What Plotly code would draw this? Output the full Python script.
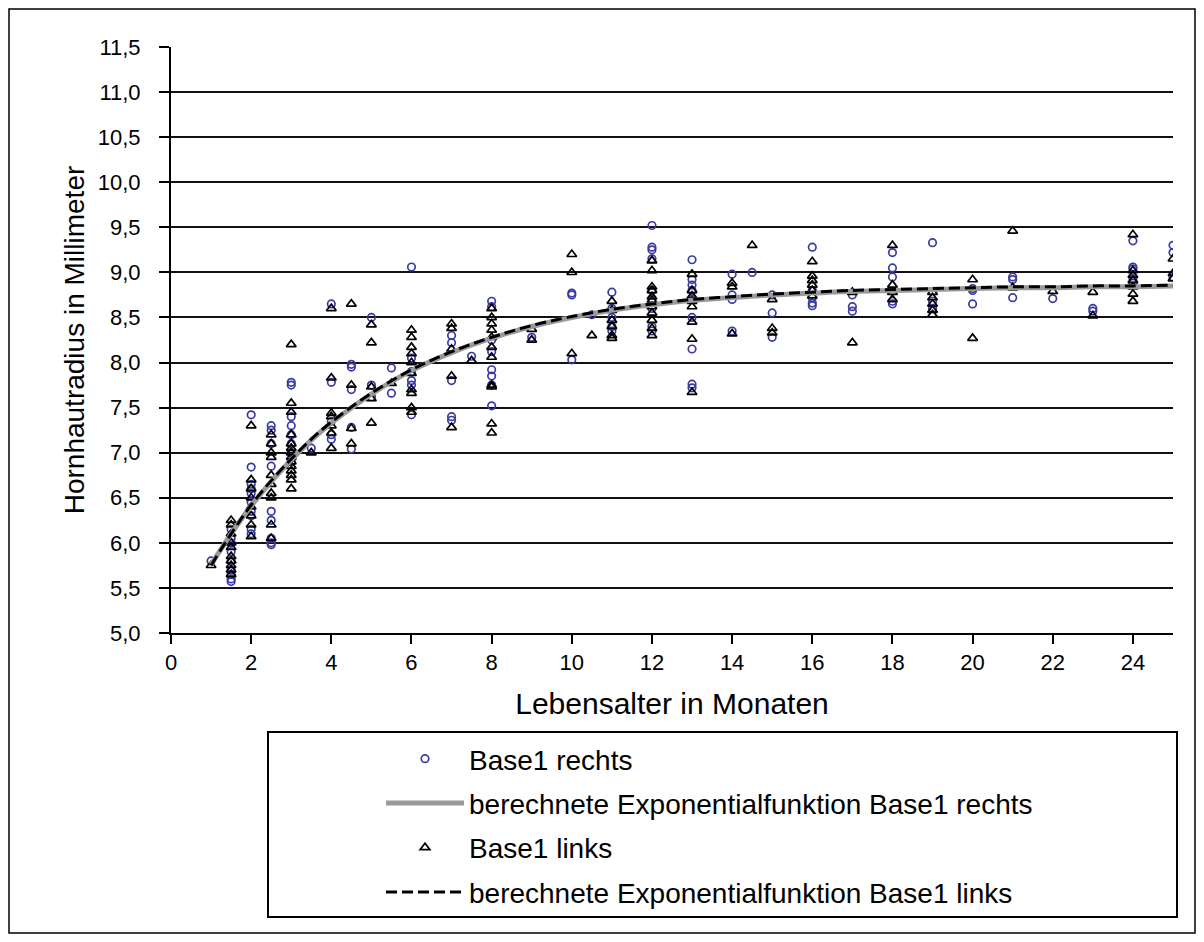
import plotly.graph_objects as go

# ---------------- data ----------------
ages = [1, 1.5, 2, 2.5, 3, 3.5, 4, 4.5, 5, 5.5, 6, 7, 7.5, 8, 9, 10, 10.5, 11,
        12, 13, 14, 14.5, 15, 16, 17, 18, 19, 20, 21, 22, 23, 24, 25]

rechts_mm = [
    [5.8],
    [6.15, 6.05, 6.0, 5.9, 5.8, 5.7, 5.65, 5.6, 5.57],
    [7.42, 6.84, 6.65, 6.6, 6.55, 6.45, 6.35, 6.3, 6.15, 6.1],
    [7.3, 7.25, 7.1, 6.85, 6.35, 6.25, 6.05, 6.0, 5.98],
    [7.78, 7.75, 7.4, 7.3, 7.2, 7.1, 7.0, 6.9],
    [7.05],
    [8.65, 7.78, 7.35, 7.2, 7.15],
    [7.98, 7.95, 7.7, 7.28, 7.04],
    [8.5, 7.75, 7.62],
    [7.94, 7.66],
    [9.06, 8.05, 7.9, 7.8, 7.75, 7.42],
    [8.3, 8.22, 7.8, 7.4, 7.36],
    [8.07],
    [8.68, 8.62, 8.25, 8.12, 7.92, 7.85, 7.75, 7.52],
    [8.28],
    [8.77, 8.75, 8.03],
    [8.53],
    [8.78, 8.6, 8.5, 8.4, 8.35],
    [9.52, 9.28, 9.25, 9.15, 8.8, 8.7, 8.6, 8.4, 8.35],
    [9.14, 8.92, 8.86, 8.8, 8.7, 8.5, 8.15, 7.76, 7.72],
    [8.98, 8.75, 8.7, 8.35],
    [9.0],
    [8.75, 8.55, 8.28],
    [9.28, 8.8, 8.72, 8.66, 8.63],
    [8.75, 8.62, 8.57],
    [9.22, 9.05, 8.95, 8.68, 8.65],
    [9.33, 8.68, 8.6],
    [8.82, 8.8, 8.65],
    [8.95, 8.92, 8.72],
    [8.71],
    [8.6, 8.57],
    [9.35, 9.06, 9.04, 8.93, 8.88],
    [9.3, 9.22, 8.95],
]

links_mm = [
    [5.75],
    [6.25, 6.2, 6.1, 6.0, 5.95, 5.85, 5.8, 5.75, 5.7, 5.65],
    [7.3, 6.7, 6.6, 6.5, 6.4, 6.3, 6.2, 6.07],
    [7.2, 7.1, 7.0, 6.95, 6.75, 6.65, 6.55, 6.5, 6.2, 6.05],
    [8.2, 7.55, 7.45, 7.2, 7.1, 7.05, 7.0, 6.95, 6.9, 6.85, 6.8, 6.75, 6.7, 6.6],
    [7.0],
    [8.6, 7.83, 7.44, 7.4, 7.3, 7.22, 7.05],
    [8.65, 7.75, 7.27, 7.1],
    [8.42, 8.22, 7.73, 7.6, 7.33],
    [7.77],
    [8.36, 8.28, 8.17, 8.1, 8.0, 7.88, 7.7, 7.66, 7.5, 7.45],
    [8.43, 8.38, 8.15, 7.85, 7.28],
    [8.02],
    [8.6, 8.5, 8.43, 8.36, 8.28, 8.17, 8.06, 7.75, 7.73, 7.32, 7.22],
    [8.37, 8.25],
    [9.2, 9.0, 8.1],
    [8.3],
    [8.68, 8.58, 8.47, 8.4, 8.3, 8.27],
    [9.13, 9.02, 8.84, 8.8, 8.73, 8.69, 8.62, 8.55, 8.47, 8.38, 8.3],
    [8.98, 8.8, 8.74, 8.68, 8.62, 8.45, 8.26, 7.67],
    [8.88, 8.84, 8.32],
    [9.3],
    [8.7, 8.38, 8.33],
    [9.12, 8.96, 8.91, 8.86, 8.8, 8.74],
    [8.78, 8.22],
    [9.3, 8.86, 8.78, 8.7],
    [8.78, 8.72, 8.65, 8.58, 8.53],
    [8.92, 8.27],
    [9.46, 8.83],
    [8.79],
    [8.78, 8.52],
    [9.42, 9.02, 8.97, 8.91, 8.84, 8.76, 8.68],
    [9.15, 8.99, 8.93],
]

fit_ages = [1, 1.5, 2, 2.5, 3, 3.5, 4, 5, 6, 7, 8, 9, 10, 11, 12, 13, 14, 15,
            16, 17, 18, 19, 20, 21, 22, 23, 24, 25]
fit_rechts = [5.76, 6.1, 6.41, 6.68, 6.92, 7.14, 7.33, 7.65, 7.91, 8.11, 8.27,
              8.4, 8.5, 8.58, 8.64, 8.69, 8.72, 8.75, 8.77, 8.79, 8.8, 8.81,
              8.82, 8.83, 8.83, 8.84, 8.84, 8.85]
fit_links = [5.75, 6.1, 6.42, 6.69, 6.93, 7.15, 7.34, 7.66, 7.92, 8.12, 8.28,
             8.41, 8.51, 8.59, 8.65, 8.7, 8.73, 8.76, 8.78, 8.8, 8.81, 8.82,
             8.83, 8.84, 8.84, 8.85, 8.85, 8.86]

y_ticks = [5.0, 5.5, 6.0, 6.5, 7.0, 7.5, 8.0, 8.5, 9.0, 9.5, 10.0, 10.5, 11.0, 11.5]
y_grid = [5.5, 6.0, 6.5, 7.0, 7.5, 8.0, 8.5, 9.0, 9.5, 10.0, 10.5, 11.0]
x_ticks = [0, 2, 4, 6, 8, 10, 12, 14, 16, 18, 20, 22, 24]

names = ["Base1 rechts",
         "berechnete Exponentialfunktion Base1 rechts",
         "Base1 links",
         "berechnete Exponentialfunktion Base1 links"]


def flatten(groups):
    xs, ys = [], []
    for a, vals in zip(ages, groups):
        for v in vals:
            xs.append(a)
            ys.append(v)
    return xs, ys


rx, ry = flatten(rechts_mm)
lx, ly = flatten(links_mm)

FONT = "Liberation Sans, Arial, sans-serif"
BLUE = "#3a3aa6"

fig = go.Figure()
fig.add_trace(go.Scatter(
    x=rx, y=ry, mode="markers", name=names[0], legendrank=1, legendgroup="a",
    marker=dict(symbol="circle-open", size=7.5, color=BLUE, line=dict(width=1.7, color=BLUE)),
))
fig.add_trace(go.Scatter(
    x=lx, y=ly, mode="markers", name=names[2], legendrank=3, legendgroup="c",
    marker=dict(symbol="triangle-up-open", size=8.5, color="black", line=dict(width=1.7, color="black")),
))
fig.add_trace(go.Scatter(
    x=fit_ages, y=fit_rechts, mode="lines", name=names[1], legendrank=2, legendgroup="b",
    line=dict(color="#9a9a9a", width=5, shape="spline"),
))
fig.add_trace(go.Scatter(
    x=fit_ages, y=fit_links, mode="lines", name=names[3], legendrank=4, legendgroup="d",
    line=dict(color="black", width=3, dash="11px,5px", shape="spline"),
))

# page offset of the figure (body margin) is 8 px
OFF = 8
W, H = 1188, 926
L, R, T, B = 171 - OFF, 1173 - OFF, 47 - OFF, 633 - OFF
pw, ph = R - L, B - T


def px(xp):  # page pixel -> paper x
    return (xp - OFF - L) / pw


def py(yp):  # page pixel -> paper y
    return (B - (yp - OFF)) / ph


fig.update_layout(
    width=W, height=H,
    margin=dict(l=L, r=W - R, t=T, b=H - B, pad=0),
    paper_bgcolor="white", plot_bgcolor="white",
    separators=",.",
    font=dict(family=FONT, color="black", size=20),
    showlegend=True,
    legend=dict(
        x=px(381), y=py(734), xanchor="left", yanchor="top",
        bgcolor="rgba(0,0,0,0)", borderwidth=0,
        font=dict(family=FONT, size=28, color="black"),
        itemwidth=78, tracegroupgap=5, traceorder="grouped",
    ),
    xaxis=dict(
        range=[0, 25], tickvals=x_ticks, ticks="outside", ticklen=9, tickwidth=1.5,
        tickcolor="black", showline=True, linecolor="black", linewidth=2,
        showgrid=False, zeroline=False, tickfont=dict(size=22, family=FONT),
        title=dict(text="Lebensalter in Monaten", font=dict(size=30, family=FONT), standoff=19),
    ),
    yaxis=dict(
        range=[5, 11.5], tickvals=y_ticks, tickformat=".1f", ticks="outside", ticklen=10,
        tickwidth=1.5, tickcolor="black", showline=True, linecolor="black", linewidth=2,
        showgrid=False, zeroline=False, tickfont=dict(size=22, family=FONT),
        ticklabelstandoff=14,
        minor=dict(tickvals=y_grid, showgrid=True, gridcolor="#111111", gridwidth=1.6, ticks=""),
        title=dict(text="Hornhautradius in Millimeter", font=dict(size=28, family=FONT), standoff=5),
    ),
    shapes=[
        dict(type="rect", xref="paper", yref="paper", x0=px(9), x1=px(1195), y0=py(933), y1=py(9),
             line=dict(color="black", width=1.5), layer="below"),
        dict(type="rect", xref="paper", yref="paper", x0=px(268), x1=px(1177), y0=py(917), y1=py(732),
             line=dict(color="black", width=2), layer="below"),
    ],
)

fig.write_html("out.html")
